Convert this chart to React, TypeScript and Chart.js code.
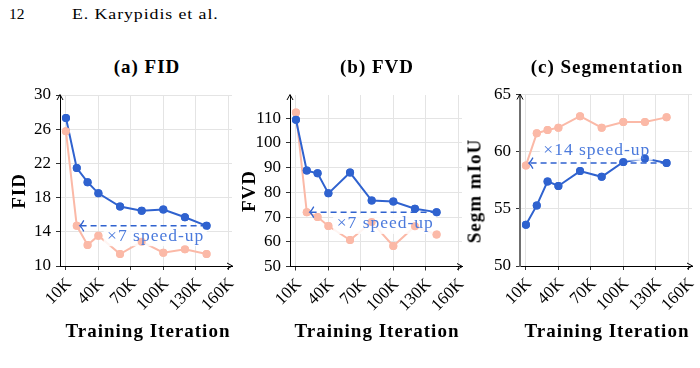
import React, { useEffect, useRef } from 'react';
import { Chart, registerables } from 'chart.js';

Chart.register(...registerables);

// Training iterations (thousands) at which each run was evaluated
const ITERATIONS = [10, 20, 30, 40, 60, 80, 100, 120, 140];
const X_TICKS = [10, 40, 70, 100, 130, 160];

// (a) FID
const FID_OURS = [27.3, 21.45, 19.8, 18.5, 16.95, 16.45, 16.6, 15.7, 14.7];
const FID_BASE = [25.75, 14.7, 12.45, 13.55, 11.4, 12.85, 11.55, 11.95, 11.4];
const FID_TICKS = [10, 14, 18, 22, 26, 30];

// (b) FVD
const FVD_OURS = [109.4, 88.8, 87.7, 79.6, 88.0, 76.7, 76.3, 73.4, 72.0];
const FVD_BASE = [112.3, 72.0, 70.0, 66.4, 60.7, 68.0, 58.3, 66.3, 62.9];
const FVD_TICKS = [50, 60, 70, 80, 90, 100, 110];

// (c) Segmentation mIoU
const SEG_OURS = [53.6, 55.3, 57.4, 57.0, 58.3, 57.8, 59.1, 59.4, 59.0];
const SEG_BASE = [58.8, 61.6, 61.9, 62.1, 63.1, 62.1, 62.6, 62.6, 63.0];
const SEG_TICKS = [50, 55, 60, 65];

const BLUE = '#2f62cf';
const PINK = '#fbb9a7';
const NOTE_BLUE = '#4b7adc';
const SERIF = '"Liberation Serif", "Times New Roman", serif';

type Box = { left: number; top: number; width: number; height: number };
type Area = { left: number; top: number; right: number; bottom: number };

type Panel = {
  box: Box;
  area: Area;
  yMin: number;
  yMax: number;
  yTicks: number[];
  ours: number[];
  base: number[];
  matchIndex: number; // baseline point reached by the speed-up arrow
  note: string;
  noteAt: [number, number];
  yBorderColor: string;
  yBorderWidth: number;
};

const X_MIN = 4.5;
const X_MAX = 163.5;

const PANELS: Panel[] = [
  {
    box: { left: 0, top: 80, width: 250, height: 240 },
    area: { left: 60, top: 95, right: 232, bottom: 266 },
    yMin: 10, yMax: 30, yTicks: FID_TICKS,
    ours: FID_OURS, base: FID_BASE, matchIndex: 1,
    note: '×7 speed-up', noteAt: [92.5, 12.96],
    yBorderColor: '#000', yBorderWidth: 1,
  },
  {
    box: { left: 235, top: 80, width: 250, height: 240 },
    area: { left: 290, top: 95, right: 462, bottom: 266.5 },
    yMin: 50, yMax: 119.4, yTicks: FVD_TICKS,
    ours: FVD_OURS, base: FVD_BASE, matchIndex: 1,
    note: '×7 speed-up', noteAt: [92.1, 65.4],
    yBorderColor: '#000', yBorderWidth: 1,
  },
  {
    box: { left: 465, top: 80, width: 235, height: 240 },
    area: { left: 520, top: 94.5, right: 692, bottom: 266 },
    yMin: 50, yMax: 65, yTicks: SEG_TICKS,
    ours: SEG_OURS, base: SEG_BASE, matchIndex: 0,
    note: '×14 speed-up', noteAt: [75, 59.71],
    yBorderColor: '#6f6f6f', yBorderWidth: 2,
  },
];

// Axis arrow tips, the speed-up arrow and its label
const overlayPlugin = {
  id: 'panelOverlay',
  afterDatasetsDraw(chart: any, _args: any, opts: any) {
    const { ctx, chartArea: a } = chart;
    const x = chart.scales.x;
    const y = chart.scales.y;
    ctx.save();

    ctx.strokeStyle = '#000';
    ctx.lineWidth = 1;
    ctx.setLineDash([]);
    ctx.beginPath();
    ctx.moveTo(a.left - 3, a.top + 5);
    ctx.lineTo(a.left, a.top - 0.5);
    ctx.lineTo(a.left + 3, a.top + 5);
    ctx.moveTo(a.right - 5, a.bottom - 3);
    ctx.lineTo(a.right + 0.5, a.bottom);
    ctx.lineTo(a.right - 5, a.bottom + 3);
    ctx.stroke();

    // label backdrop hides the lines underneath
    ctx.font = `17.5px ${SERIF}`;
    (ctx as any).letterSpacing = '1px';
    const w = ctx.measureText(opts.text).width;
    const cx = x.getPixelForValue(opts.at[0]);
    const by = y.getPixelForValue(opts.at[1]);
    ctx.fillStyle = 'rgba(255,255,255,0.85)';
    ctx.fillRect(cx - w / 2 - 3, by - 14.5, w + 6, 20);
    ctx.restore();

    // markers stay on top of the backdrop (baseline first, ours above)
    for (let d = chart.data.datasets.length - 1; d >= 0; d--) {
      const meta = chart.getDatasetMeta(d);
      meta.data.forEach((pt: any) => pt.draw(ctx, a));
    }

    ctx.save();
    // dashed arrow from our final value back to the matching baseline point
    const py = y.getPixelForValue(opts.level);
    const x0 = x.getPixelForValue(opts.fromX);
    const x1 = x.getPixelForValue(opts.toX) + 3;
    ctx.strokeStyle = BLUE;
    ctx.lineWidth = 1.5;
    ctx.setLineDash([6, 4]);
    ctx.beginPath();
    ctx.moveTo(x0, py);
    ctx.lineTo(x1 + 1, py);
    ctx.stroke();
    ctx.setLineDash([]);
    ctx.lineWidth = 1.3;
    ctx.beginPath();
    ctx.moveTo(x1 + 4, py - 5.5);
    ctx.quadraticCurveTo(x1 + 1.5, py - 1, x1, py);
    ctx.quadraticCurveTo(x1 + 1.5, py + 1, x1 + 4, py + 5.5);
    ctx.stroke();

    ctx.font = `17.5px ${SERIF}`;
    (ctx as any).letterSpacing = '1px';
    ctx.fillStyle = NOTE_BLUE;
    ctx.textAlign = 'center';
    ctx.textBaseline = 'alphabetic';
    ctx.fillText(opts.text, cx + 0.5, by);
    ctx.restore();
  },
};

function makeConfig(p: Panel): any {
  const padTop = p.area.top - p.box.top;
  const padRight = p.box.left + p.box.width - p.area.right;
  const yWidth = p.area.left - p.box.left;
  const xHeight = p.box.top + p.box.height - p.area.bottom;
  const tickFont = { family: SERIF, size: 17 };
  const last = ITERATIONS.length - 1;

  return {
    type: 'line',
    data: {
      datasets: [
        {
          data: ITERATIONS.map((it, i) => ({ x: it, y: p.ours[i] })),
          borderColor: BLUE,
          backgroundColor: BLUE,
          borderWidth: 2,
          pointRadius: 4,
          pointBorderWidth: 0,
          pointBackgroundColor: BLUE,
          tension: 0,
        },
        {
          data: ITERATIONS.map((it, i) => ({ x: it, y: p.base[i] })),
          borderColor: PINK,
          backgroundColor: PINK,
          borderWidth: 2,
          pointRadius: 4,
          pointBorderWidth: 0,
          pointBackgroundColor: PINK,
          tension: 0,
        },
      ],
    },
    options: {
      responsive: false,
      animation: false,
      devicePixelRatio: 1,
      layout: { padding: { left: 0, top: padTop, right: padRight, bottom: 0 } },
      plugins: {
        legend: { display: false },
        tooltip: { enabled: false },
        panelOverlay: {
          text: p.note,
          at: p.noteAt,
          level: p.ours[last],
          fromX: ITERATIONS[last],
          toX: ITERATIONS[p.matchIndex],
        },
      },
      scales: {
        x: {
          type: 'linear',
          min: X_MIN,
          max: X_MAX,
          afterBuildTicks: (s: any) => {
            s.ticks = X_TICKS.map((v) => ({ value: v }));
          },
          afterFit: (s: any) => {
            s.height = xHeight;
            s.paddingLeft = 0;
            s.paddingRight = 0;
          },
          ticks: {
            autoSkip: false,
            minRotation: 45,
            maxRotation: 45,
            padding: 4,
            labelOffset: 3,
            color: '#000',
            font: tickFont,
            callback: (v: any) => `${v}K`,
          },
          grid: { color: '#e4e4e4', lineWidth: 1, tickColor: '#333', tickLength: 4 },
          border: { color: '#000', width: 1 },
        },
        y: {
          type: 'linear',
          min: p.yMin,
          max: p.yMax,
          afterBuildTicks: (s: any) => {
            s.ticks = p.yTicks.map((v) => ({ value: v }));
          },
          afterFit: (s: any) => {
            s.width = yWidth;
            s.paddingTop = 0;
            s.paddingBottom = 0;
          },
          ticks: {
            padding: 5,
            color: '#000',
            font: tickFont,
          },
          grid: { color: '#e4e4e4', lineWidth: 1, tickColor: '#333', tickLength: 4 },
          border: { color: p.yBorderColor, width: p.yBorderWidth },
        },
      },
    },
    plugins: [overlayPlugin],
  };
}

function PanelChart({ panel }: { panel: Panel }) {
  const ref = useRef<HTMLCanvasElement>(null);
  useEffect(() => {
    if (!ref.current) return;
    const chart = new Chart(ref.current, makeConfig(panel));
    return () => chart.destroy();
  }, [panel]);
  return (
    <canvas
      ref={ref}
      width={panel.box.width}
      height={panel.box.height}
      style={{
        position: 'absolute',
        left: panel.box.left,
        top: panel.box.top,
        width: panel.box.width,
        height: panel.box.height,
      }}
    />
  );
}

const boldText: React.CSSProperties = {
  position: 'absolute',
  fontFamily: SERIF,
  fontWeight: 700,
  fontSize: 19,
  lineHeight: 1,
  letterSpacing: 1,
  whiteSpace: 'nowrap',
  color: '#000',
};

function Label({ text, cx, cy, vertical }: { text: string; cx: number; cy: number; vertical?: boolean }) {
  return (
    <div
      style={{
        ...boldText,
        left: cx,
        top: cy,
        transform: `translate(-50%, -50%)${vertical ? ' rotate(-90deg)' : ''}`,
      }}
    >
      {text}
    </div>
  );
}

const TITLES = ['(a) FID', '(b) FVD', '(c) Segmentation'];
const Y_TITLES = ['FID', 'FVD', 'Segm mIoU'];
const X_TITLE = 'Training Iteration';

export default function App() {
  const centers = [147, 377, 607];
  const yTitleX = [18, 248, 474];
  return (
    <div
      style={{
        position: 'fixed',
        left: 0,
        top: 0,
        width: 700,
        height: 368,
        background: '#fff',
        overflow: 'hidden',
      }}
    >
      <div
        style={{
          position: 'absolute',
          left: 9,
          top: 6,
          fontFamily: SERIF,
          fontSize: 15.5,
          lineHeight: 1,
          color: '#000',
          whiteSpace: 'nowrap',
        }}
      >
        12
      </div>
      <div
        style={{
          position: 'absolute',
          left: 72,
          top: 6,
          fontFamily: SERIF,
          fontSize: 15.5,
          lineHeight: 1,
          letterSpacing: 0.8,
          color: '#000',
          whiteSpace: 'nowrap',
          transform: 'scaleX(1.15)',
          transformOrigin: 'left top',
        }}
      >
        E. Karypidis et al.
      </div>

      {PANELS.map((p, i) => (
        <PanelChart key={i} panel={p} />
      ))}

      {TITLES.map((t, i) => (
        <Label key={'t' + i} text={t} cx={centers[i]} cy={65.5} />
      ))}
      {Y_TITLES.map((t, i) => (
        <Label key={'y' + i} text={t} cx={yTitleX[i]} cy={191} vertical />
      ))}
      {centers.map((c, i) => (
        <Label key={'x' + i} text={X_TITLE} cx={c + (i === 0 ? 1 : 0)} cy={330} />
      ))}
    </div>
  );
}
